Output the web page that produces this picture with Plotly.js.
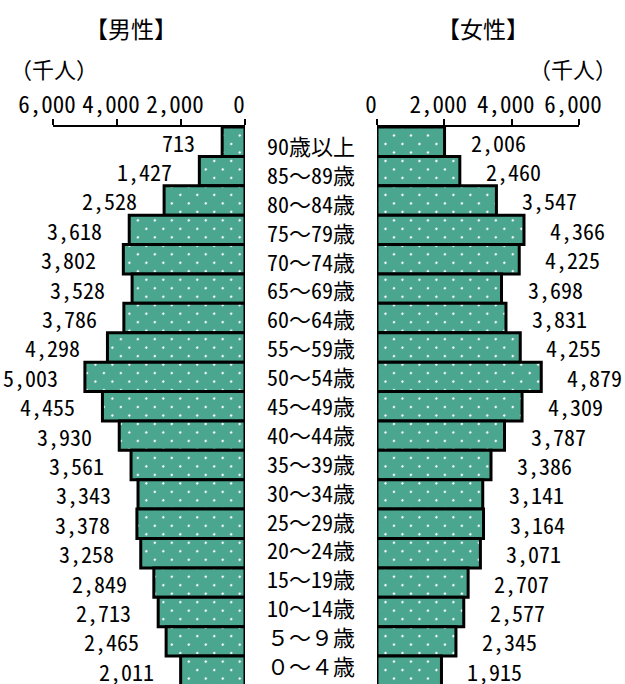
<!DOCTYPE html>
<html>
<head>
<meta charset="utf-8">
<script src="https://cdn.plot.ly/plotly-3.0.1.min.js"></script>
<style>
  html, body { margin: 0; padding: 0; background: #fff; }
  #chart { width: 625px; height: 684px; }
</style>
</head>
<body>
<div id="chart"></div>
<script>
// ---- data (thousands of people) ----
const ageGroups = ["90歳以上", "85～89歳", "80～84歳", "75～79歳", "70～74歳", "65～69歳",
  "60～64歳", "55～59歳", "50～54歳", "45～49歳", "40～44歳", "35～39歳", "30～34歳",
  "25～29歳", "20～24歳", "15～19歳", "10～14歳", "５～９歳", "０～４歳"];
const maleValues = [713, 1427, 2528, 3618, 3802, 3528, 3786, 4298, 5003, 4455, 3930,
  3561, 3343, 3378, 3258, 2849, 2713, 2465, 2011];
const femaleValues = [2006, 2460, 3547, 4366, 4225, 3698, 3831, 4255, 4879, 4309, 3787,
  3386, 3141, 3164, 3071, 2707, 2577, 2345, 1915];
const tickValues = [0, 2000, 4000, 6000];
const tickLabels = ["0", "2,000", "4,000", "6,000"];
const maleTitle = "【男性】";
const femaleTitle = "【女性】";
const unitLabel = "（千人）";

// ---- style ----
const W = 625, H = 684;
const GREEN = "#4aa68f";
const FONT = "'Noto Sans Mono CJK JP', 'Noto Sans CJK JP', sans-serif";
const px = v => v / W;           // x pixel -> paper
const py = v => 1 - v / H;       // y pixel -> paper
const idx = ageGroups.map((_, i) => i);
const fmt = v => v.toLocaleString("en-US");
const labelPitch = 0.983;        // middle column labels are set slightly tighter than the bars

const markerStyle = {
  color: GREEN,
  line: { color: "#000", width: 3 },
  pattern: { shape: ".", fgcolor: "#ffffff", bgcolor: GREEN, size: 12, solidity: 0.03, fillmode: "replace" }
};

const traces = [
  { type: "bar", orientation: "h", x: maleValues, y: idx, xaxis: "x", yaxis: "y",
    width: 1, marker: markerStyle, hoverinfo: "skip" },
  { type: "bar", orientation: "h", x: femaleValues, y: idx, xaxis: "x2", yaxis: "y",
    width: 1, marker: markerStyle, hoverinfo: "skip" }
];

const annotations = [];
ageGroups.forEach((g, i) => {
  annotations.push({ xref: "paper", yref: "y", x: px(311), y: 0.11 + i * labelPitch, text: g, showarrow: false,
    xanchor: "center", yanchor: "middle", font: { size: 22, color: "#000", family: FONT } });
  annotations.push({ xref: "x", yref: "y", x: maleValues[i], y: i, text: fmt(maleValues[i]), showarrow: false,
    xanchor: "right", yanchor: "middle", xshift: -25, font: { size: 22, color: "#000", family: FONT } });
  annotations.push({ xref: "x2", yref: "y", x: femaleValues[i], y: i, text: fmt(femaleValues[i]), showarrow: false,
    xanchor: "left", yanchor: "middle", xshift: 24, font: { size: 22, color: "#000", family: FONT } });
});
annotations.push(
  { xref: "paper", yref: "paper", x: px(131), y: py(28), text: maleTitle, showarrow: false,
    xanchor: "center", yanchor: "middle", font: { size: 23, color: "#000", family: FONT } },
  { xref: "paper", yref: "paper", x: px(483), y: py(28), text: femaleTitle, showarrow: false,
    xanchor: "center", yanchor: "middle", font: { size: 23, color: "#000", family: FONT } },
  { xref: "paper", yref: "paper", x: px(54), y: py(68), text: unitLabel, showarrow: false,
    xanchor: "center", yanchor: "middle", font: { size: 22, color: "#000", family: FONT } },
  { xref: "paper", yref: "paper", x: px(573), y: py(68), text: unitLabel, showarrow: false,
    xanchor: "center", yanchor: "middle", font: { size: 22, color: "#000", family: FONT } }
);

const axisCommon = {
  side: "top", anchor: "y", showline: true, linecolor: "#000", linewidth: 2,
  ticks: "outside", ticklen: 6, tickwidth: 2, tickcolor: "#000",
  tickvals: tickValues, ticktext: tickLabels, ticklabelstandoff: -3,
  showgrid: false, zeroline: false, fixedrange: true,
  tickfont: { size: 23, color: "#000", family: FONT }
};

const layout = {
  width: W, height: H,
  margin: { l: 0, r: 0, t: 0, b: 0, pad: 0 },
  paper_bgcolor: "#fff", plot_bgcolor: "rgba(0,0,0,0)",
  showlegend: false, bargap: 0,
  font: { family: FONT, color: "#000" },
  xaxis: Object.assign({}, axisCommon, { domain: [px(53), px(245)], range: [6000, 0], ticklabelshift: 6 }),
  xaxis2: Object.assign({}, axisCommon, { domain: [px(377), px(579)], range: [0, 6000], ticklabelshift: -6 }),
  yaxis: { domain: [0, py(127)], range: [18.45, -0.5], visible: false, fixedrange: true },
  annotations: annotations
};

Plotly.newPlot("chart", traces, layout, { displayModeBar: false, staticPlot: true }).then(gd => {
  // tilt the dot lattice 45° so the dots sit in staggered rows, as in the original print screen
  gd.querySelectorAll("pattern").forEach(p => p.setAttribute("patternTransform", "rotate(45)"));
});
</script>
</body>
</html>
